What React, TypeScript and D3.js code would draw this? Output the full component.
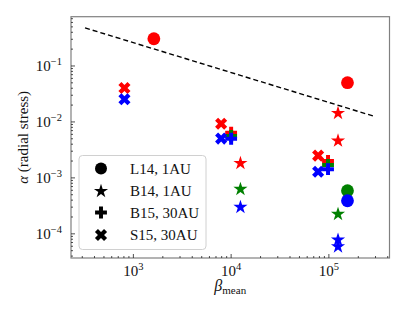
import React, { useEffect, useRef } from 'react';
import * as d3 from 'd3';

// L14, 1AU (circles)
const l14Beta = [1620, 1.55e5, 1.55e5, 1.55e5];
const l14Alpha = [0.307, 0.0503, 5.9e-4, 3.9e-4];
const l14Color = ['red', 'red', 'green', 'blue'];

// B14, 1AU (stars)
const b14Beta = [1.245e4, 1.245e4, 1.245e4, 1.24e5, 1.24e5, 1.24e5, 1.24e5, 1.24e5];
const b14Alpha = [1.83e-3, 6.3e-4, 3.0e-4, 0.0143, 4.6e-3, 2.25e-4, 7.8e-5, 5.9e-5];
const b14Color = ['red', 'green', 'blue', 'red', 'red', 'green', 'blue', 'blue'];

// B15, 30AU (filled plus)
const b15Beta = [1e4, 1e4, 1e4, 9.8e4, 9.8e4, 9.8e4];
const b15Alpha = [6.4e-3, 5.6e-3, 5.0e-3, 2.0e-3, 1.7e-3, 1.43e-3];
const b15Color = ['red', 'green', 'blue', 'red', 'green', 'blue'];

// S15, 30AU (filled x)
const s15Beta = [810, 810, 7900, 7900, 7.76e4, 7.76e4];
const s15Alpha = [0.0405, 0.0254, 9.3e-3, 5.04e-3, 2.5e-3, 1.29e-3];
const s15Color = ['red', 'blue', 'red', 'blue', 'red', 'blue'];

// dashed reference line
const lineBeta = [320, 3.0e5];
const lineAlpha = [0.48, 0.0124];

const xMajor = [1e3, 1e4, 1e5];
const xMajorExp = ['3', '4', '5'];
const yMajor = [1e-1, 1e-2, 1e-3, 1e-4];
const yMajorExp = ['\u22121', '\u22122', '\u22123', '\u22124'];

const legendLabels = ['L14, 1AU', 'B14, 1AU', 'B15, 30AU', 'S15, 30AU'];

const colorMap: Record<string, string> = { red: '#ff0000', green: '#008000', blue: '#0000ff' };
const FONT = '"Liberation Serif", "DejaVu Serif", serif';

const App: React.FC = () => {
  const svgRef = useRef<SVGSVGElement>(null);

  useEffect(() => {
    if (!svgRef.current) return;
    const width = 407;
    const height = 313;
    const left = 71, right = 389.5, top = 16.7, bottom = 258;

    const svg = d3.select(svgRef.current);
    svg.selectAll('*').remove();
    svg.attr('width', width).attr('height', height);

    const x = d3.scaleLog().domain([230, 4.17e5]).range([left, right]);
    const y = d3.scaleLog().domain([0.76, 3.7e-5]).range([top, bottom]);

    // frame
    svg.append('rect')
      .attr('x', left).attr('y', top)
      .attr('width', right - left).attr('height', bottom - top)
      .attr('fill', 'white').attr('stroke', '#808080').attr('stroke-width', 1.2);

    // ticks (inward)
    const tickG = svg.append('g').attr('stroke', '#222').attr('stroke-width', 0.8);
    x.ticks().forEach((t) => {
      const major = xMajor.some((m) => Math.abs(Math.log10(t) - Math.log10(m)) < 1e-6);
      const len = major ? 4 : 2;
      tickG.append('line').attr('x1', x(t)).attr('x2', x(t)).attr('y1', bottom).attr('y2', bottom - len);
    });
    y.ticks().forEach((t) => {
      const major = yMajor.some((m) => Math.abs(Math.log10(t) - Math.log10(m)) < 1e-6);
      const len = major ? 4 : 2;
      tickG.append('line').attr('x1', left).attr('x2', left + len).attr('y1', y(t)).attr('y2', y(t));
    });

    // tick labels
    xMajor.forEach((t, i) => {
      const tx = svg.append('text')
        .attr('x', x(t)).attr('y', bottom + 18)
        .attr('text-anchor', 'middle')
        .style('font-family', FONT).style('font-size', '15px').attr('fill', '#111');
      tx.append('tspan').text('10');
      tx.append('tspan').attr('dy', -6).style('font-size', '10.5px').text(xMajorExp[i]);
    });
    yMajor.forEach((t, i) => {
      const ty = svg.append('text')
        .attr('x', left - 9).attr('y', y(t) + 5)
        .attr('text-anchor', 'end')
        .style('font-family', FONT).style('font-size', '15px').attr('fill', '#111');
      ty.append('tspan').text('10');
      ty.append('tspan').attr('dy', -6).style('font-size', '10.5px').text(yMajorExp[i]);
    });

    // axis labels
    const xl = svg.append('text')
      .attr('x', (left + right) / 2).attr('y', bottom + 33)
      .attr('text-anchor', 'middle')
      .style('font-family', FONT).style('font-size', '16px').attr('fill', '#111');
    xl.append('tspan').style('font-style', 'italic').text('\u03b2');
    xl.append('tspan').attr('dy', 3).style('font-size', '11px').text('mean');

    svg.append('text')
      .attr('transform', `translate(28,${(top + bottom) / 2}) rotate(-90)`)
      .attr('text-anchor', 'middle')
      .style('font-family', FONT).style('font-size', '15px').attr('fill', '#111')
      .html('<tspan font-style="italic">\u03b1</tspan> (radial stress)');

    // dashed line
    const line = d3.line<number>()
      .x((_, i) => x(lineBeta[i]))
      .y((d) => y(d));
    svg.append('path')
      .attr('d', line(lineAlpha) as string)
      .attr('fill', 'none').attr('stroke', '#000').attr('stroke-width', 1.4)
      .attr('stroke-dasharray', '5,3');

    // markers
    const starPath = d3.symbol().type(d3.symbolStar).size(62)() as string;
    const plusPath = d3.symbol().type(d3.symbolCross).size(78)() as string;
    const xPath = d3.symbol().type(d3.symbolCross).size(92)() as string;

    const drawCircle = (g: d3.Selection<SVGGElement, unknown, null, undefined>, cx: number, cy: number, fill: string, r: number) =>
      g.append('circle').attr('cx', cx).attr('cy', cy).attr('r', r).attr('fill', fill);
    const drawPath = (g: d3.Selection<SVGGElement, unknown, null, undefined>, d: string, cx: number, cy: number, fill: string, rot = 0, scale = 1) =>
      g.append('path').attr('d', d).attr('fill', fill)
        .attr('transform', `translate(${cx},${cy}) rotate(${rot}) scale(${scale})`);

    const marks = svg.append('g');
    l14Beta.forEach((b, i) => drawCircle(marks, x(b), y(l14Alpha[i]), colorMap[l14Color[i]], 6.4));
    b14Beta.forEach((b, i) => drawPath(marks, starPath, x(b), y(b14Alpha[i]), colorMap[b14Color[i]]));
    b15Beta.forEach((b, i) => drawPath(marks, plusPath, x(b), y(b15Alpha[i]), colorMap[b15Color[i]]));
    s15Beta.forEach((b, i) => drawPath(marks, xPath, x(b), y(s15Alpha[i]), colorMap[s15Color[i]], 45));

    // legend
    const lg = svg.append('g');
    lg.append('rect')
      .attr('x', 79).attr('y', 155.5).attr('width', 127).attr('height', 94)
      .attr('rx', 3.5).attr('ry', 3.5)
      .attr('fill', 'white').attr('fill-opacity', 0.85)
      .attr('stroke', '#d0d0d0').attr('stroke-width', 1);
    const rowY = [168.5, 190.7, 212.5, 235];
    legendLabels.forEach((lab, i) => {
      const ly = rowY[i];
      if (i === 0) drawCircle(lg, 101, ly, '#000', 6);
      if (i === 1) drawPath(lg, starPath, 101, ly + 0.5, '#000');
      if (i === 2) drawPath(lg, plusPath, 101, ly, '#000');
      if (i === 3) drawPath(lg, xPath, 101, ly, '#000', 45);
      lg.append('text')
        .attr('x', 130).attr('y', ly + 5)
        .style('font-family', FONT).style('font-size', '15px').attr('fill', '#111')
        .text(lab);
    });
  }, []);

  return (
    <div style={{ position: 'absolute', left: 0, top: 0, background: 'white' }}>
      <svg ref={svgRef}></svg>
    </div>
  );
};

export default App;
